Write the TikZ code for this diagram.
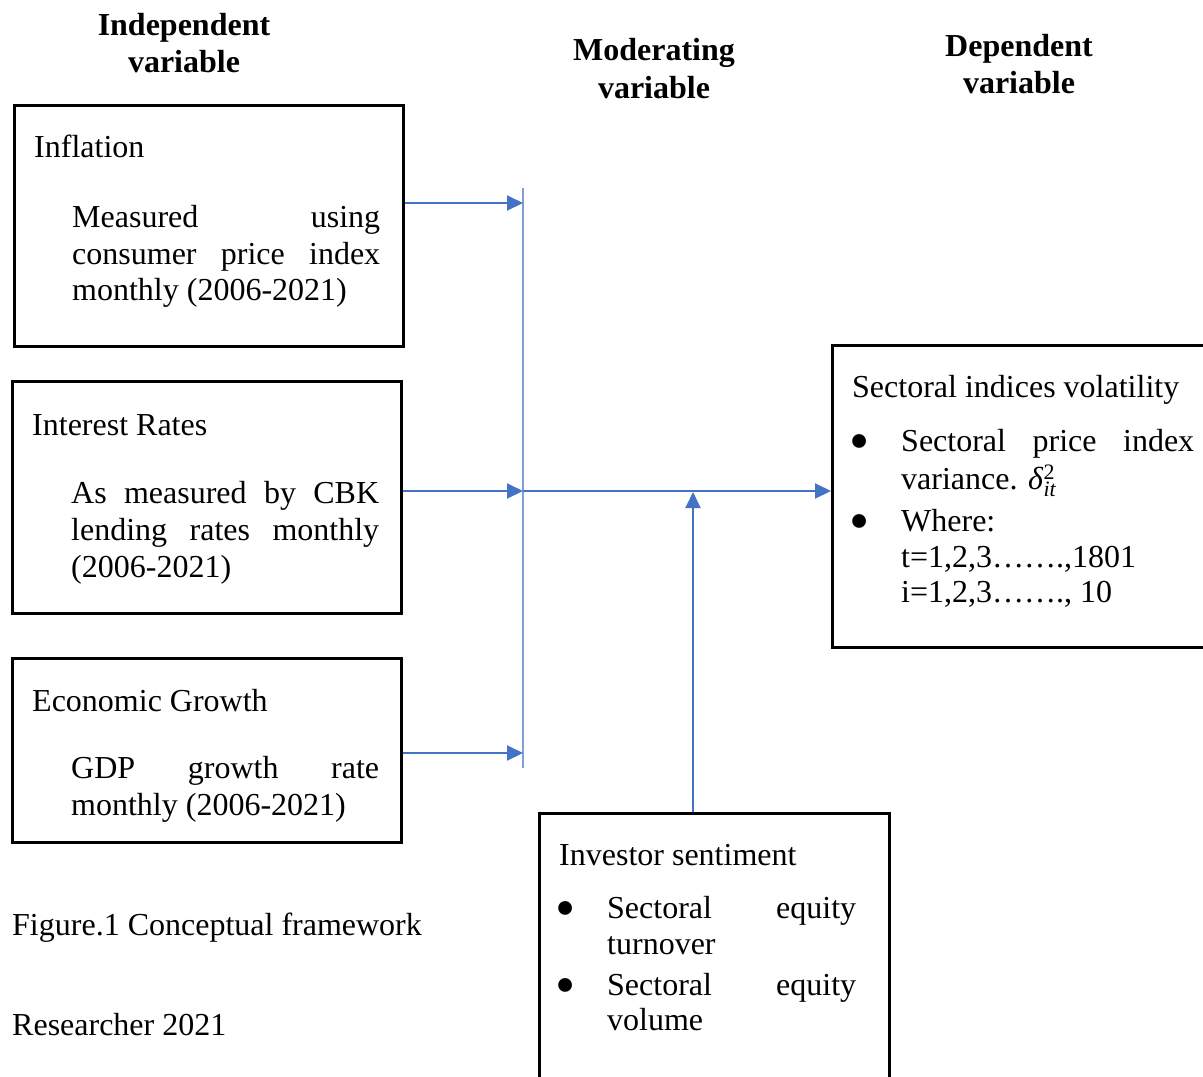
\documentclass[tikz,border=0pt]{standalone}
\usepackage{fontspec}
\usepackage{graphicx}
\setmainfont{Liberation Serif}
\usetikzlibrary{arrows.meta}
\definecolor{wblue}{HTML}{4472C4}
\definecolor{busblue}{HTML}{7F9FD8}
\newcommand{\bigbul}{\raisebox{-9.5pt}{\scalebox{1.8}{•}}}
\newcommand{\smallf}{\fontsize{22}{22}\selectfont}
\tikzset{
  box/.style={draw=black, line width=2.5pt, inner sep=0pt, anchor=north west},
  txt/.style={anchor=base west, inner sep=0pt, font=\fontsize{32}{37}\selectfont},
  hd/.style={anchor=base, inner sep=0pt, font=\fontsize{32}{37}\selectfont\bfseries},
  bul/.style={anchor=base, inner sep=0pt, font=\fontsize{32}{37}\selectfont},
  link/.style={draw=wblue, line width=2pt, -{Triangle[length=16pt,width=15pt]}},
  bus/.style={draw=busblue, line width=1.6pt},
}
\begin{document}
\begin{tikzpicture}[x=1pt,y=-1pt]
\path[use as bounding box, fill=white] (0,0) rectangle (1203,1077);
\clip (0,0) rectangle (1203,1077);

% headers
\node[hd] (h1a) at (184,35) {Independent};
\node[hd] (h1b) at (184,72) {variable};
\node[hd] (h2a) at (654,60) {Moderating};
\node[hd] (h2b) at (654,98) {variable};
\node[hd] (h3a) at (1019,56) {Dependent};
\node[hd] (h3b) at (1019,93) {variable};

% boxes
\node[box, minimum width=389pt, minimum height=241pt] (inf) at (13,104) {};
\node[box, minimum width=389pt, minimum height=232pt] (int) at (11,380) {};
\node[box, minimum width=389pt, minimum height=184pt] (eco) at (11,657) {};
\node[box, minimum width=379pt, minimum height=302pt] (dep) at (831,344) {};
\node[box, minimum width=350pt, minimum height=290pt] (mod) at (538,812) {};

% inflation text
\node[txt] (inf0) at (34,157) {Inflation};
\node[txt] (inf1) at (72,227) {\hbox to 308pt{Measured\hfill using}};
\node[txt] (inf2) at (72,264) {\hbox to 308pt{consumer\hfill price\hfill index}};
\node[txt] (inf3) at (72,300) {monthly (2006-2021)};

% interest text
\node[txt] (int0) at (32,435) {Interest Rates};
\node[txt] (int1) at (71,503) {\hbox to 308pt{As\hfill measured\hfill by\hfill CBK}};
\node[txt] (int2) at (71,540) {\hbox to 308pt{lending\hfill rates\hfill monthly}};
\node[txt] (int3) at (71,577) {(2006-2021)};

% economic growth text
\node[txt] (eco0) at (32,711) {Economic Growth};
\node[txt] (eco1) at (71,778) {\hbox to 308pt{GDP\hfill growth\hfill rate}};
\node[txt] (eco2) at (71,815) {monthly (2006-2021)};

% dependent text
\node[txt] (dep0) at (852,397) {Sectoral indices volatility};
\node[bul] (depb1) at (860,451) {\bigbul};
\node[txt] (dep1) at (901,451) {\hbox to 293pt{Sectoral\hfill price\hfill index}};
\node[txt] (dep2) at (901,489) {variance. \textit{δ}$^{\mbox{\smallf 2}}_{\mbox{\smallf\itshape it}}$};
\node[bul] (depb2) at (860,531) {\bigbul};
\node[txt] (dep3) at (901,531) {Where:};
\node[txt] (dep4) at (901,567) {t=1,2,3…….,1801};
\node[txt] (dep5) at (901,602) {i=1,2,3……., 10};

% moderating text
\node[txt] (mod0) at (559,865) {Investor sentiment};
\node[bul] (modb1) at (566,918) {\bigbul};
\node[txt] (mod1) at (607,918) {\hbox to 249pt{Sectoral\hfill equity}};
\node[txt] (mod2) at (607,954) {turnover};
\node[bul] (modb2) at (566,995) {\bigbul};
\node[txt] (mod3) at (607,995) {\hbox to 249pt{Sectoral\hfill equity}};
\node[txt] (mod4) at (607,1030) {volume};

% captions
\node[txt] (cap1) at (12,935) {Figure.1 Conceptual framework};
\node[txt] (cap2) at (12,1035) {Researcher 2021};

% connectors
\coordinate (vt) at (523,188);
\coordinate (vb) at (523,768);
\coordinate (j1) at (523,203);
\coordinate (j2) at (523,491);
\coordinate (j3) at (523,753);
\coordinate (mj) at (693,492);
\draw[bus] (vt) -- (vb);
\draw[link] (inf.east |- j1) -- (j1);
\draw[link] (int.east |- j2) -- (j2);
\draw[link] (eco.east |- j3) -- (j3);
\draw[link] (j2) -- (dep.west |- j2);
\draw[link] (mod.north -| mj) -- (mj);
\end{tikzpicture}
\end{document}
